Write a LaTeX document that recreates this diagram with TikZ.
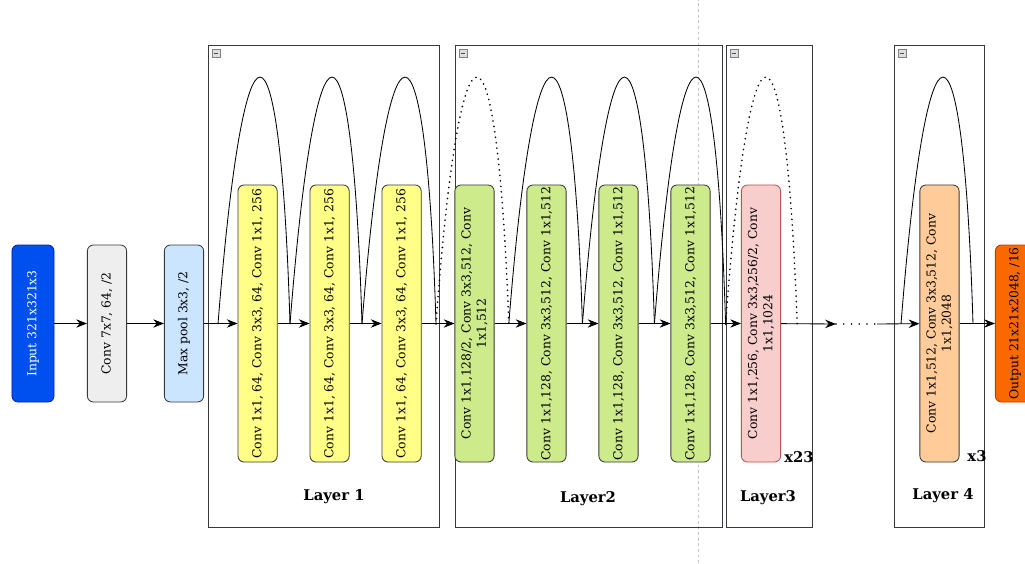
\documentclass[tikz,border=0pt]{standalone}
\usepackage{fontspec}
\setmainfont{DejaVu Serif}
\definecolor{InBlue}{HTML}{0050EF}
\definecolor{InEdge}{HTML}{001DBC}
\definecolor{ConvGray}{HTML}{EEEEEE}
\definecolor{PoolBlue}{HTML}{CCE5FF}
\definecolor{BoxEdge}{HTML}{36393D}
\definecolor{ResYellow}{HTML}{FFFF88}
\definecolor{ResGreen}{HTML}{CDEB8B}
\definecolor{ResPink}{HTML}{F8CECC}
\definecolor{PinkEdge}{HTML}{B85450}
\definecolor{ResOrange}{HTML}{FFCC99}
\definecolor{OutOrange}{HTML}{FA6800}
\definecolor{OutEdge}{HTML}{C73500}
\usetikzlibrary{arrows.meta}

\tikzset{
	blk/.style={draw=BoxEdge, rounded corners=1.5mm, rotate=90, minimum width=6.925cm,
		minimum height=0.98cm, inner sep=1pt, align=center, line width=0.6pt,
		font=\fontsize{8.8}{10.8}\selectfont},
	small/.style={blk, minimum width=3.925cm},
	flow/.style={line width=0.6pt, -{Stealth[length=2.7mm, width=2.1mm, inset=0.9mm]}},
	skip/.style={line width=0.6pt},
	skipdot/.style={line width=1.3pt, line cap=round, dash pattern=on 0pt off 3.9pt},
	grp/.style={draw=BoxEdge, line width=0.7pt},
	lbl/.style={font=\fontsize{10.5}{12}\selectfont\bfseries},
}

\begin{document}
\begin{tikzpicture}
	\useasboundingbox (0,0) rectangle (25.625,14.075);
	% page break guide
	\draw[gray!45, line width=0.5pt, dash pattern=on 2pt off 2pt] (17.45,0) -- (17.45,14.075);

	% layer groups
	\draw[grp] (5.2,0.9) rectangle (10.975,12.95);
	\draw[grp] (11.375,0.9) rectangle (18.05,12.95);
	\draw[grp] (18.15,0.9) rectangle (20.3,12.95);
	\draw[grp] (22.35,0.9) rectangle (24.6,12.95);
	\foreach \x in {5.2, 11.375, 18.15, 22.35} {
		\draw[draw=gray, fill=gray!25, line width=0.3pt] (\x+0.1,12.85) rectangle ++(0.2,-0.2);
		\draw[gray!60!black, line width=0.4pt] (\x+0.14,12.75) -- ++(0.12,0);
	}

	% stem
	\node[small, fill=InBlue, draw=InEdge, text=white, minimum height=1.05cm] (inp) at (0.825,5.9875) {Input 321x321x3};
	\node[small, fill=ConvGray] (conv) at (2.675,5.9875) {Conv 7x7, 64, /2};
	\node[small, fill=PoolBlue] (pool) at (4.6,5.9875) {Max pool 3x3, /2};

	% layer 1
	\node[blk, fill=ResYellow] (y1) at (6.44,5.9875) {Conv 1x1, 64, Conv 3x3, 64, Conv 1x1, 256};
	\node[blk, fill=ResYellow] (y2) at (8.24,5.9875) {Conv 1x1, 64, Conv 3x3, 64, Conv 1x1, 256};
	\node[blk, fill=ResYellow] (y3) at (10.04,5.9875) {Conv 1x1, 64, Conv 3x3, 64, Conv 1x1, 256};

	% layer 2
	\node[blk, fill=ResGreen] (g1) at (11.8625,5.9875) {Conv 1x1,128/2, Conv 3x3,512, Conv\\1x1,512};
	\node[blk, fill=ResGreen] (g2) at (13.6625,5.9875) {Conv 1x1,128, Conv 3x3,512, Conv 1x1,512};
	\node[blk, fill=ResGreen] (g3) at (15.4625,5.9875) {Conv 1x1,128, Conv 3x3,512, Conv 1x1,512};
	\node[blk, fill=ResGreen] (g4) at (17.2625,5.9875) {Conv 1x1,128, Conv 3x3,512, Conv 1x1,512};

	% layer 3 and 4
	\node[blk, fill=ResPink, draw=PinkEdge] (p1) at (19.025,5.9875) {Conv 1x1,256, Conv 3x3,256/2, Conv\\1x1,1024};
	\node[blk, fill=ResOrange] (o1) at (23.4875,5.9875) {Conv 1x1,512, Conv 3x3,512, Conv\\1x1,2048};
	\node[small, fill=OutOrange, draw=OutEdge] (out) at (25.375,5.9875) {Output 21x21x2048, /16};

	% labels
	\node[lbl] (l1) at (8.35,1.65) {Layer 1};
	\node[lbl] (l2) at (14.7,1.6) {Layer2};
	\node[lbl] (l3) at (19.2,1.625) {Layer3};
	\node[lbl] (l4) at (23.575,1.675) {Layer 4};
	\node[lbl] (r3) at (19.975,2.65) {x23};
	\node[lbl] (r4) at (24.425,2.675) {x3};

	% junctions on the main line
	\coordinate (j1) at (5.45,5.975);
	\coordinate (j2) at (7.25,5.975);
	\coordinate (j3) at (9.05,5.975);
	\coordinate (j4) at (10.9,5.975);
	\coordinate (j5) at (12.72,5.975);
	\coordinate (j6) at (14.56,5.975);
	\coordinate (j7) at (16.36,5.975);
	\coordinate (j8) at (18.14,5.975);
	\coordinate (j9) at (19.93,5.975);
	\coordinate (j10) at (22.525,5.975);
	\coordinate (j11) at (24.325,5.975);
	\coordinate (gapL) at (20.9,5.975);
	\coordinate (gapR) at (21.92,5.975);

	% main flow
	\foreach \a/\b in {inp/conv, conv/pool, pool/y1, y1/y2, y2/y3, y3/g1, g1/g2, g2/g3, g3/g4, g4/p1, o1/out}
		\draw[flow] (\a) -- (\b);
	\draw[flow] (p1) -- (gapL);
	\draw[line width=1.3pt, line cap=round, dash pattern=on 0pt off 5.5pt] (gapL) -- (gapR);
	\draw[flow] (gapR) -- (o1);

	% shortcuts
	\foreach \a/\b in {j1/j2, j2/j3, j3/j4, j5/j6, j6/j7, j7/j8, j10/j11}
		\draw[skip] (\a) .. controls +(0.65,8.23) and +(-0.25,8.23) .. (\b);
	\foreach \a/\b in {j4/j5, j8/j9}
		\draw[skipdot] (\a) .. controls +(0.6,8.23) and +(-0.3,8.23) .. (\b);
\end{tikzpicture}
\end{document}
